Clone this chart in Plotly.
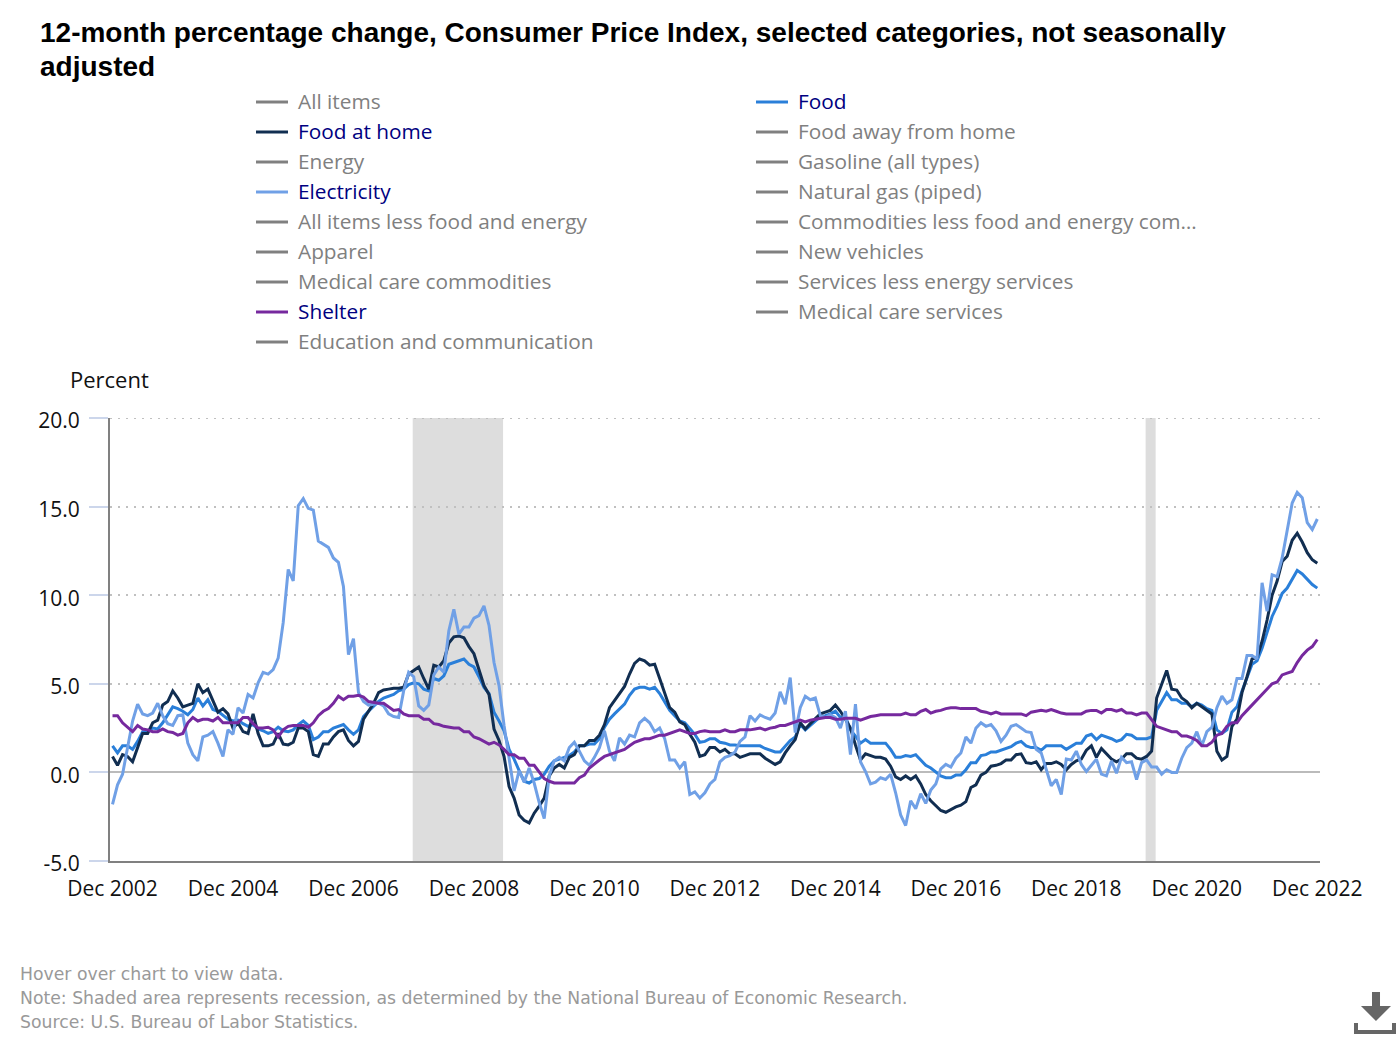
import plotly.graph_objects as go
import pandas as pd

MONTHS = [d.strftime("%b %Y") for d in pd.date_range("2002-12-01", "2022-12-01", freq="MS")]
TICK_LABELS = [f"Dec {y}" for y in range(2002, 2023, 2)]
Y_TICKS = [-5, 0, 5, 10, 15, 20]

FOOD = [1.5,
 1.1,1.5,1.5,1.3,1.75,2.3,2.3,2.5,2.45,2.8,3.25,3.7,
 3.6,3.45,3.25,3.55,4.2,3.75,4.1,3.55,3.45,3.2,3.0,2.9,
 2.95,2.75,2.6,2.7,2.45,2.35,2.2,2.3,2.55,2.35,2.3,2.4,
 2.7,2.9,2.65,1.85,2.0,2.3,2.3,2.5,2.6,2.7,2.4,2.15,
 2.4,3.15,3.45,3.75,4.0,4.2,4.3,4.4,4.6,4.7,4.95,5.05,
 5.0,4.7,4.6,5.3,5.2,5.45,6.1,6.2,6.3,6.4,6.1,5.95,
 5.4,4.8,4.45,3.4,2.9,2.35,1.3,0.75,0.1,-0.5,-0.6,-0.4,
 -0.35,-0.1,0.35,0.65,0.75,0.85,0.95,1.15,1.5,1.5,1.6,1.6,
 1.9,2.55,3.0,3.3,3.6,3.85,4.35,4.7,4.8,4.8,4.7,4.8,
 4.45,3.95,3.5,3.2,2.9,2.8,2.45,2.15,1.7,1.75,1.9,1.9,
 1.7,1.65,1.55,1.55,1.5,1.5,1.5,1.5,1.5,1.35,1.25,1.15,
 1.15,1.5,1.8,2.0,2.7,2.4,2.65,2.85,3.15,3.2,3.3,3.45,
 3.1,3.15,2.4,2.05,1.65,1.85,1.65,1.65,1.65,1.65,1.3,0.85,
 0.85,0.95,0.9,1.0,0.7,0.4,0.25,0.05,-0.2,-0.3,-0.3,-0.15,
 -0.15,0.15,0.55,0.55,0.95,1.0,1.15,1.15,1.25,1.35,1.45,1.65,
 1.75,1.5,1.4,1.4,1.25,1.5,1.5,1.5,1.5,1.3,1.5,1.65,
 1.65,2.05,2.15,1.85,2.1,2.0,1.9,1.75,1.85,2.15,2.1,1.9,
 1.9,1.9,2.0,3.5,4.0,4.5,4.1,4.1,3.9,3.9,3.7,3.9,
 3.8,3.6,3.5,2.4,2.2,2.4,3.4,3.7,4.6,5.3,6.1,6.3,
 7.0,7.9,8.8,9.4,10.1,10.4,10.9,11.4,11.2,10.9,10.6,10.4]

FOOD_AT_HOME = [0.9,
 0.4,1.0,0.9,0.6,1.4,2.2,2.2,2.8,2.95,3.8,4.0,4.6,
 4.2,3.7,3.8,3.9,5.0,4.5,4.7,4.0,3.4,3.6,3.3,2.5,
 2.8,2.3,2.2,3.3,2.2,1.5,1.5,1.6,2.2,1.6,1.55,1.7,
 2.5,2.5,2.3,1.0,0.9,1.6,1.6,2.0,2.3,2.4,1.8,1.5,
 1.75,3.0,3.45,3.9,4.5,4.65,4.7,4.75,4.75,4.8,5.55,5.75,
 5.95,5.3,4.7,6.05,5.95,6.3,7.3,7.65,7.7,7.6,7.1,6.7,
 5.75,4.9,4.4,2.45,1.8,0.9,-0.8,-1.45,-2.4,-2.7,-2.85,-2.3,
 -1.9,-1.45,-0.2,0.25,0.45,0.25,0.85,1.0,1.5,1.5,1.8,1.8,
 2.1,2.7,3.65,4.05,4.5,4.85,5.55,6.15,6.4,6.3,6.05,6.1,
 5.3,4.45,3.65,3.4,2.85,2.7,2.15,1.7,0.9,1.0,1.4,1.4,
 1.15,1.3,1.05,1.05,0.85,0.95,1.05,1.05,1.05,0.8,0.6,0.45,
 0.6,1.1,1.5,1.85,2.8,2.45,2.75,3.0,3.3,3.4,3.5,3.8,
 3.45,3.0,2.5,1.55,0.7,1.05,0.95,0.85,0.85,0.75,0.35,-0.25,
 -0.4,-0.2,-0.4,-0.2,-0.65,-1.25,-1.6,-1.9,-2.15,-2.25,-2.1,-1.95,
 -1.85,-1.65,-0.85,-0.7,-0.15,0.0,0.35,0.4,0.5,0.7,0.7,1.0,
 1.05,0.55,0.5,0.6,0.15,0.5,0.5,0.6,0.45,0.15,0.45,0.65,
 0.75,1.25,1.5,0.85,1.35,1.05,0.75,0.6,0.75,1.05,1.05,0.8,
 0.75,0.9,1.2,4.2,4.95,5.75,4.7,4.65,4.2,4.0,3.65,3.9,
 3.7,3.5,3.3,1.2,0.7,0.9,2.6,3.0,4.5,5.4,6.4,6.5,
 7.4,8.6,10.0,10.8,11.9,12.2,13.1,13.5,13.0,12.4,12.0,11.8]

ELECTRICITY = [-1.8,
 -0.7,-0.1,1.5,2.9,3.85,3.3,3.2,3.35,3.9,3.2,2.75,2.65,
 3.2,3.25,1.65,1.0,0.65,2.0,2.1,2.3,1.65,0.9,2.4,2.15,
 3.65,3.35,4.4,4.2,5.05,5.65,5.55,5.8,6.45,8.45,11.45,10.8,
 15.05,15.45,14.9,14.8,13.05,12.85,12.7,12.1,11.85,10.5,6.65,7.55,
 4.5,4.0,3.8,3.85,3.9,3.75,3.3,3.15,3.1,4.6,5.65,5.4,
 3.75,3.5,3.8,5.5,5.95,5.65,8.0,9.2,7.8,8.2,8.2,8.7,
 8.85,9.4,8.3,6.2,4.9,2.65,0.9,-1.05,0.1,-0.55,0.25,-0.6,
 -1.7,-2.6,-0.2,0.65,0.85,0.65,1.4,1.7,1.2,0.65,0.4,0.85,
 1.4,2.35,1.2,0.65,1.95,1.6,2.1,2.0,2.8,3.05,2.8,2.3,
 2.5,1.9,0.7,0.7,0.25,0.6,-1.25,-1.1,-1.45,-1.15,-0.65,-0.4,
 0.6,0.85,0.95,1.15,1.75,2.0,3.2,2.9,3.25,3.1,3.0,3.35,
 4.55,3.85,5.35,2.25,3.65,4.3,4.1,4.2,3.2,3.1,3.25,3.1,
 2.5,3.45,1.0,3.85,0.6,0.05,-0.65,-0.55,-0.3,-0.4,-0.1,-1.15,
 -2.4,-3.0,-1.6,-2.05,-1.2,-1.75,-1.0,-0.65,0.2,0.45,0.3,0.8,
 1.1,2.0,1.65,2.5,2.8,2.6,2.7,2.35,1.75,2.1,2.6,2.7,
 2.5,2.3,2.25,1.3,1.1,0.1,-0.75,-0.4,-1.25,0.75,0.7,1.2,
 0.45,0.05,0.4,0.75,-0.1,-0.2,0.65,-0.05,0.85,0.55,0.6,-0.4,
 0.55,0.7,0.3,0.3,-0.1,0.15,0.0,0.0,0.8,1.4,1.65,2.3,
 1.5,2.3,2.55,3.65,4.3,3.9,4.1,5.3,5.3,6.6,6.6,6.4,
 10.7,9.1,11.15,11.05,12.1,13.7,15.2,15.8,15.5,14.1,13.7,14.3]

SHELTER = [3.2,
 3.2,2.8,2.55,2.3,2.65,2.45,2.4,2.3,2.3,2.45,2.3,2.25,
 2.1,2.2,2.8,3.1,2.9,3.0,3.0,2.9,3.1,2.8,2.8,2.8,
 2.8,3.1,3.1,2.75,2.5,2.5,2.55,2.4,2.0,2.4,2.6,2.65,
 2.65,2.65,2.55,2.8,3.2,3.45,3.6,3.9,4.3,4.1,4.3,4.3,
 4.35,4.25,4.0,3.95,3.9,3.9,3.7,3.5,3.55,3.3,3.2,3.2,
 3.2,3.0,3.0,2.75,2.7,2.6,2.55,2.5,2.5,2.3,2.3,2.0,
 1.9,1.75,1.6,1.7,1.55,1.3,1.0,1.0,0.8,0.8,0.4,0.4,
 0.0,-0.35,-0.5,-0.6,-0.6,-0.6,-0.6,-0.6,-0.3,-0.15,0.25,0.5,
 0.7,0.9,1.0,1.1,1.2,1.3,1.5,1.7,1.8,1.9,1.9,2.0,
 2.1,2.1,2.2,2.3,2.4,2.3,2.2,2.2,2.3,2.35,2.3,2.3,
 2.3,2.4,2.3,2.3,2.4,2.4,2.4,2.45,2.5,2.4,2.5,2.55,
 2.65,2.65,2.75,2.85,2.95,2.85,2.95,3.0,3.05,3.1,3.1,3.0,
 3.0,3.05,3.05,3.05,2.95,3.05,3.15,3.2,3.25,3.25,3.25,3.25,
 3.25,3.35,3.25,3.25,3.45,3.55,3.35,3.45,3.5,3.6,3.65,3.65,
 3.6,3.6,3.6,3.6,3.45,3.4,3.3,3.4,3.3,3.3,3.3,3.3,
 3.3,3.2,3.4,3.45,3.5,3.45,3.55,3.45,3.35,3.3,3.3,3.3,
 3.3,3.45,3.5,3.5,3.35,3.55,3.55,3.45,3.55,3.35,3.35,3.25,
 3.35,3.35,3.0,2.6,2.5,2.4,2.3,2.3,2.05,2.05,1.95,1.8,
 1.5,1.5,1.7,2.1,2.2,2.6,2.8,2.8,3.2,3.5,3.8,4.1,
 4.4,4.7,5.0,5.1,5.5,5.6,5.7,6.2,6.6,6.9,7.1,7.5]

LEGEND_LEFT = ["All items", "Food at home", "Energy", "Electricity",
               "All items less food and energy", "Apparel",
               "Medical care commodities", "Shelter", "Education and communication"]
LEGEND_RIGHT = ["Food", "Food away from home", "Gasoline (all types)", "Natural gas (piped)",
                "Commodities less food and energy com…", "New vehicles",
                "Services less energy services", "Medical care services"]
ACTIVE = {"Food": "#2a7fd9", "Food at home": "#112e51", "Electricity": "#70a0e6", "Shelter": "#76299e"}
RECESSIONS = [("Dec 2007", "Jun 2009"), ("Feb 2020", "Apr 2020")]
SERIES = {"Food": FOOD, "Food at home": FOOD_AT_HOME, "Electricity": ELECTRICITY, "Shelter": SHELTER}
TITLE_LINES = ["12-month percentage change, Consumer Price Index, selected categories, not seasonally", "adjusted"]
FOOTER = ["Hover over chart to view data.",
          "Note: Shaded area represents recession, as determined by the National Bureau of Economic Research.",
          "Source: U.S. Bureau of Labor Statistics."]

W, H = 1400, 1040
L, R, T, B = 110, 1320, 418, 861
UI = "Open Sans"
FS = 20.8
GRID = "#c0c0c0"
GRID_DASH = "2px,6px"


def px(x):
    return (x - L) / (R - L)


def py(y):
    return (B - y) / (B - T)


def text(x, y, s, **font):
    return dict(xref="paper", yref="paper", x=px(x), y=py(y), text=s, showarrow=False, xshift=-2,
                xanchor="left", yanchor="middle", font=font)


fig = go.Figure()
for name, vals in SERIES.items():
    fig.add_trace(go.Scatter(x=MONTHS, y=vals, mode="lines", name=name,
                             line=dict(color=ACTIVE[name], width=3),
                             hovertemplate="%{x}: %{y:.1f}%<extra>" + name + "</extra>"))

shapes = []
for a, b in RECESSIONS:
    shapes.append(dict(type="rect", xref="x", yref="paper", x0=MONTHS.index(a) - 0.2, x1=MONTHS.index(b) - 0.2,
                       y0=0, y1=1, fillcolor="#dddddd", line_width=0, layer="below"))
# top gridline: plotly leaves out a gridline that sits exactly on the axis end
shapes.append(dict(type="line", xref="paper", yref="y", x0=0, x1=1, y0=max(Y_TICKS), y1=max(Y_TICKS),
                   line=dict(color=GRID, width=2, dash=GRID_DASH), layer="below"))

annots = []
for names, xs in ((LEGEND_LEFT, 256), (LEGEND_RIGHT, 756)):
    for i, n in enumerate(names):
        yy = 102 + 30 * i
        active = n in ACTIVE
        shapes.append(dict(type="line", xref="paper", yref="paper", x0=px(xs), x1=px(xs + 32),
                           y0=py(yy), y1=py(yy), line=dict(color=ACTIVE.get(n, "#808080"), width=3)))
        annots.append(text(xs + 42, yy - 0.7, n, family=UI, size=FS, color="#000080" if active else "#808080"))

for i, t in enumerate(TITLE_LINES):
    annots.append(text(40, 32 + 34 * i, f"<b>{t}</b>", family="Liberation Sans", size=28, color="#000000"))
annots.append(text(70, 379, "Percent", family=UI, size=22, color="#111111"))
for i, t in enumerate(FOOTER):
    annots.append(text(20, 974 + 24 * i, t, family="DejaVu Sans", size=17.25, color="#999999"))

# download icon (page furniture, not data)
arrow = [(1372, 992), (1380, 992), (1380, 1006), (1391, 1006), (1376, 1021), (1361, 1006), (1372, 1006)]
shapes.append(dict(type="path", xref="paper", yref="paper",
                   path="M " + " L ".join(f"{px(a):.5f} {py(b):.5f}" for a, b in arrow) + " Z",
                   fillcolor="#666666", line_width=0))
tray = [(1356, 1023), (1356, 1032), (1394, 1032), (1394, 1023)]
shapes.append(dict(type="path", xref="paper", yref="paper",
                   path="M " + " L ".join(f"{px(a):.5f} {py(b):.5f}" for a, b in tray),
                   line=dict(color="#666666", width=4)))

fig.update_layout(
    width=W, height=H, autosize=False, showlegend=False, plot_bgcolor="white", paper_bgcolor="white",
    margin=dict(l=L, r=W - R, t=T, b=H - B, pad=0),
    shapes=shapes, annotations=annots, hovermode="closest",
    font=dict(family=UI, size=21, color="#111111"),
    xaxis=dict(type="category", range=[-0.5, 240.54], tickmode="array",
               tickvals=[m for m in MONTHS if m in TICK_LABELS], ticktext=TICK_LABELS, ticks="",
               ticklabelstandoff=8,
               showgrid=False, showline=True, linecolor="#808080", linewidth=2, zeroline=False,
               tickangle=0, tickfont=dict(family=UI, size=21, color="#111111")),
    yaxis=dict(range=[-5, 20], tickmode="array", tickvals=Y_TICKS, ticktext=[f"{v:.1f}" for v in Y_TICKS],
               ticks="outside", ticklen=19, tickcolor="#ccd6eb", tickwidth=2,
               ticklabelstandoff=5, ticklabelshift=3,
               showgrid=True, gridcolor=GRID, griddash=GRID_DASH, gridwidth=2,
               zeroline=True, zerolinecolor="#bbbbbb", zerolinewidth=2,
               showline=True, linecolor="#808080", linewidth=2,
               tickfont=dict(family=UI, size=21, color="#111111")),
)
for s in SERIES.values():
    assert len(s) == len(MONTHS), len(s)
fig.write_html("out.html", config={"displayModeBar": False}, post_script="document.body.style.margin='0';")
